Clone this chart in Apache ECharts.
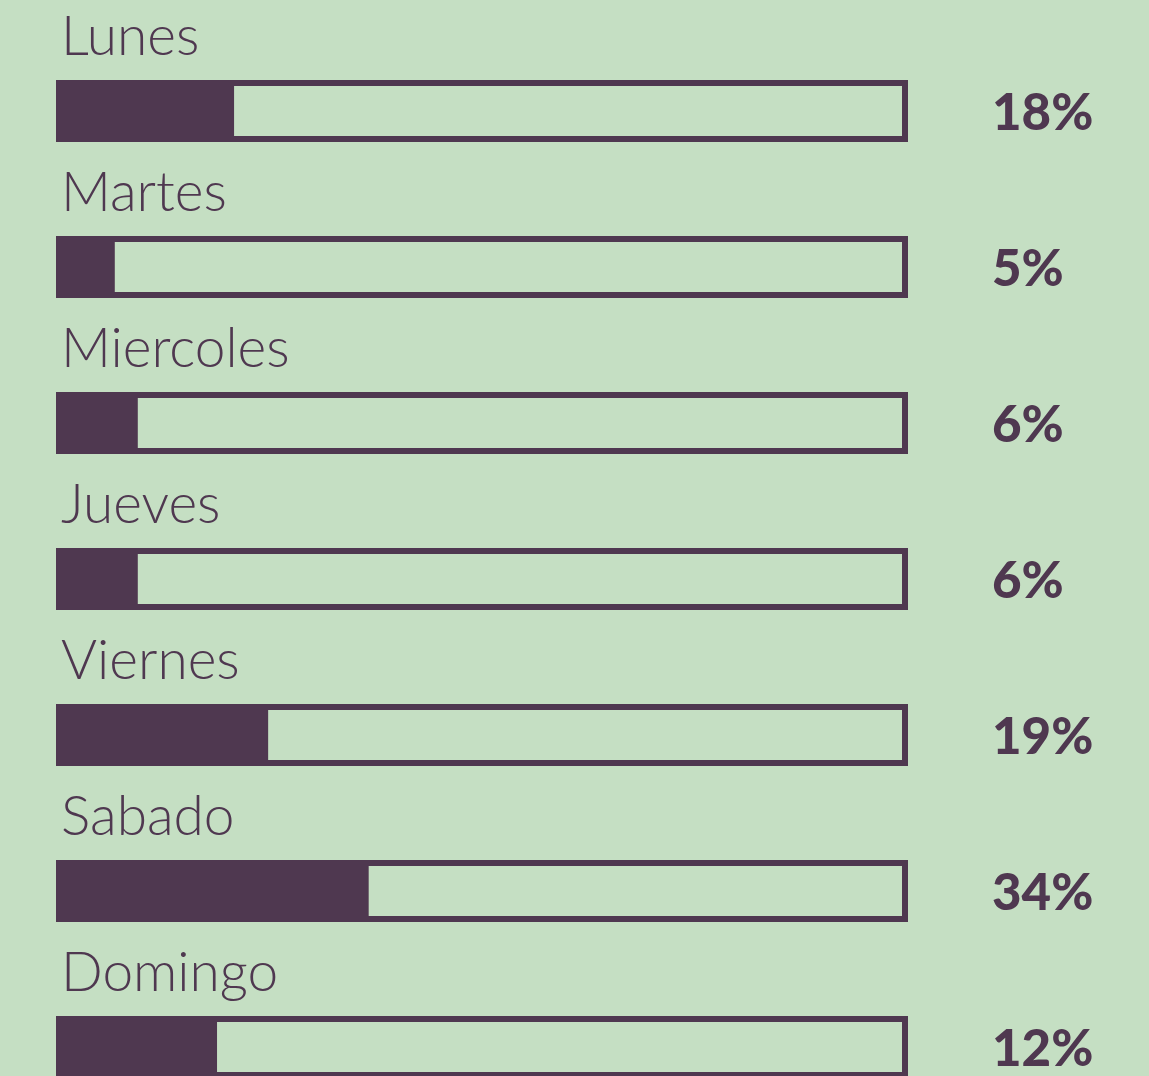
<!DOCTYPE html>
<html>
<head>
<meta charset="utf-8">
<script src="https://cdn.jsdelivr.net/npm/echarts@6/dist/echarts.min.js"></script>
<style>
  html, body { margin: 0; padding: 0; background: #c5dfc3; }
  #chart { width: 1149px; height: 1076px; }
</style>
</head>
<body>
<div id="chart"></div>
<script>
// dias de la semana
const dias = ['Lunes', 'Martes', 'Miercoles', 'Jueves', 'Viernes', 'Sabado', 'Domingo'];
// etiquetas de porcentaje
const porcentajes = ['18%', '5%', '6%', '6%', '19%', '34%', '12%'];
// largo de la barra rellena (escala 0-100 de la caja)
const relleno = [20.9, 6.9, 9.6, 9.6, 24.9, 36.7, 18.9];
const total = [100, 100, 100, 100, 100, 100, 100];

const morado = '#4f3850';
const chart = echarts.init(document.getElementById('chart'));

option = {
  backgroundColor: '#c5dfc3',
  animation: false,
  grid: { left: 56, width: 852, top: 33, height: 1092, outerBoundsMode: 'none', containLabel: false },
  xAxis: { type: 'value', min: 0, max: 100, show: false },
  yAxis: {
    type: 'category',
    data: dias,
    inverse: true,
    show: false
  },
  series: [
    {
      type: 'bar',
      data: relleno,
      barWidth: 62,
      barGap: '-100%',
      clip: false,
      itemStyle: { color: morado },
      label: {
        show: true,
        position: [5, -43],
        align: 'left',
        verticalAlign: 'middle',
        formatter: p => dias[p.dataIndex],
        fontFamily: 'Lato',
        fontWeight: 300,
        fontSize: 55,
        color: morado
      },
      z: 2
    },
    {
      type: 'bar',
      data: total,
      barWidth: 62,
      clip: false,
      itemStyle: { color: 'rgba(0,0,0,0)', borderColor: morado, borderWidth: 6 },
      label: {
        show: true,
        position: 'right',
        distance: 84,
        offset: [0, 3],
        formatter: p => porcentajes[p.dataIndex],
        fontFamily: 'Lato',
        fontWeight: 900,
        fontSize: 51,
        color: morado
      },
      z: 3
    }
  ]
};

chart.setOption(option);
window.addEventListener('resize', function () { chart.resize(); });
</script>
</body>
</html>
